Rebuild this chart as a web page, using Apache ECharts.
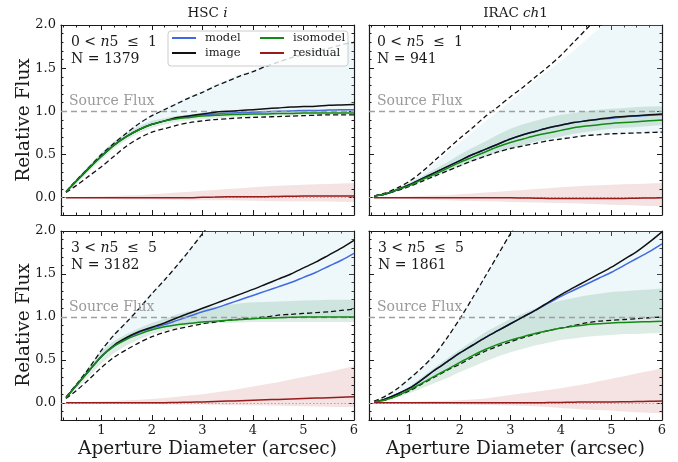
<!DOCTYPE html>
<html>
<head>
<meta charset="utf-8">
<script src="https://cdn.jsdelivr.net/npm/echarts@6/dist/echarts.min.js"></script>
<style>
  html, body { margin: 0; padding: 0; background: #fff; }
  #chart { width: 678px; height: 462px; }
</style>
</head>
<body>
<div id="chart"></div>
<script>
// Aperture diameters (arcsec) at which the curves of growth are sampled
const aperture = [0.3, 0.5, 0.75, 1.0, 1.25, 1.5, 1.75, 2.0, 2.25, 2.5, 2.75, 3.0,
                  3.25, 3.5, 3.75, 4.0, 4.25, 4.5, 4.75, 5.0, 5.25, 5.5, 5.75, 6.0];

// Axis ticks
const xMajorTicks = [1, 2, 3, 4, 5, 6];
const xMinorTicks = [0.25, 0.5, 0.75, 1.25, 1.5, 1.75, 2.25, 2.5, 2.75, 3.25, 3.5, 3.75, 4.25, 4.5, 4.75, 5.25, 5.5, 5.75];
const yMajorTicks = [0, 0.5, 1.0, 1.5, 2.0];
const yMinorTicks = [-0.2, -0.1, 0.1, 0.2, 0.3, 0.4, 0.6, 0.7, 0.8, 0.9, 1.1, 1.2, 1.3, 1.4, 1.6, 1.7, 1.8, 1.9];

// Panel labels
const bandNames = ['HSC', 'IRAC'];
const bins = ['0 < n5 ≤ 1', '3 < n5 ≤ 5'];
const counts = { hscLow: 1379, iracLow: 941, hscHigh: 3182, iracHigh: 1861 };

// ---- HSC i, 0 < n5 <= 1 ----
const hscLowModel   = [0.07, 0.19, 0.34, 0.48, 0.61, 0.71, 0.79, 0.85, 0.89, 0.92, 0.94, 0.96, 0.97, 0.98, 0.985, 0.99, 0.995, 1.00, 1.005, 1.01, 1.01, 1.015, 1.02, 1.02];
const hscLowImage   = [0.07, 0.19, 0.34, 0.48, 0.61, 0.71, 0.79, 0.85, 0.89, 0.93, 0.95, 0.97, 0.99, 1.00, 1.01, 1.02, 1.03, 1.04, 1.05, 1.055, 1.06, 1.07, 1.075, 1.08];
const hscLowIso     = [0.07, 0.19, 0.34, 0.48, 0.61, 0.71, 0.79, 0.85, 0.89, 0.915, 0.93, 0.945, 0.955, 0.96, 0.965, 0.97, 0.97, 0.975, 0.975, 0.98, 0.98, 0.98, 0.98, 0.98];
const hscLowImgHi   = [0.07, 0.20, 0.35, 0.50, 0.63, 0.75, 0.86, 0.95, 1.02, 1.09, 1.16, 1.22, 1.29, 1.35, 1.41, 1.46, 1.52, 1.57, 1.62, 1.66, 1.70, 1.73, 1.77, 1.80];
const hscLowImgLo   = [0.06, 0.14, 0.25, 0.36, 0.48, 0.60, 0.69, 0.76, 0.80, 0.84, 0.87, 0.89, 0.905, 0.915, 0.925, 0.93, 0.935, 0.94, 0.945, 0.95, 0.955, 0.96, 0.96, 0.96];
const hscLowModHi   = [0.07, 0.21, 0.37, 0.52, 0.65, 0.77, 0.88, 0.97, 1.04, 1.11, 1.18, 1.24, 1.31, 1.37, 1.43, 1.48, 1.54, 1.59, 1.64, 1.68, 1.72, 1.75, 1.79, 1.82];
const hscLowModLo   = [0.07, 0.19, 0.34, 0.48, 0.61, 0.71, 0.79, 0.85, 0.89, 0.915, 0.93, 0.945, 0.955, 0.96, 0.965, 0.97, 0.97, 0.975, 0.975, 0.98, 0.98, 0.98, 0.98, 0.98];
const hscLowIsoHi   = [0.08, 0.21, 0.37, 0.52, 0.65, 0.75, 0.83, 0.89, 0.92, 0.95, 0.96, 0.975, 0.985, 0.99, 0.995, 1.00, 1.005, 1.01, 1.01, 1.015, 1.015, 1.02, 1.02, 1.02];
const hscLowIsoLo   = [0.06, 0.16, 0.30, 0.44, 0.57, 0.67, 0.75, 0.81, 0.85, 0.88, 0.90, 0.91, 0.92, 0.93, 0.935, 0.94, 0.945, 0.95, 0.95, 0.955, 0.955, 0.96, 0.96, 0.96];
const hscLowResid   = [0, 0, 0, 0, 0, 0, 0, 0, 0, 0, 0, 0.005, 0.007, 0.01, 0.01, 0.01, 0.012, 0.015, 0.017, 0.02, 0.02, 0.02, 0.02, 0.02];
const hscLowResidHi = [0, 0.005, 0.01, 0.015, 0.02, 0.025, 0.03, 0.04, 0.05, 0.06, 0.07, 0.08, 0.09, 0.10, 0.11, 0.12, 0.13, 0.14, 0.145, 0.15, 0.155, 0.16, 0.165, 0.17];
const hscLowResidLo = [0, -0.005, -0.01, -0.01, -0.015, -0.02, -0.02, -0.02, -0.022, -0.025, -0.028, -0.03, -0.03, -0.03, -0.032, -0.035, -0.038, -0.04, -0.04, -0.04, -0.042, -0.045, -0.048, -0.05];

// ---- IRAC ch1, 0 < n5 <= 1 ----
const iracLowModel   = [0.02, 0.04, 0.09, 0.15, 0.22, 0.29, 0.36, 0.43, 0.50, 0.56, 0.62, 0.68, 0.73, 0.77, 0.81, 0.84, 0.87, 0.89, 0.91, 0.92, 0.935, 0.945, 0.955, 0.96];
const iracLowImage   = [0.02, 0.04, 0.09, 0.15, 0.22, 0.29, 0.36, 0.43, 0.50, 0.56, 0.62, 0.68, 0.73, 0.77, 0.81, 0.84, 0.87, 0.89, 0.91, 0.93, 0.94, 0.95, 0.96, 0.97];
const iracLowIso     = [0.02, 0.04, 0.09, 0.14, 0.21, 0.27, 0.34, 0.41, 0.47, 0.53, 0.59, 0.64, 0.68, 0.72, 0.75, 0.78, 0.81, 0.83, 0.845, 0.86, 0.87, 0.88, 0.89, 0.90];
const iracLowImgHi   = [0.02, 0.05, 0.11, 0.19, 0.30, 0.43, 0.56, 0.69, 0.81, 0.94, 1.05, 1.17, 1.28, 1.40, 1.52, 1.65, 1.80, 1.95, 2.10, 2.25, 2.38, 2.50, 2.62, 2.75];
const iracLowImgLo   = [0.02, 0.04, 0.08, 0.13, 0.19, 0.25, 0.31, 0.37, 0.43, 0.48, 0.53, 0.57, 0.60, 0.63, 0.66, 0.68, 0.70, 0.72, 0.73, 0.74, 0.745, 0.75, 0.755, 0.76];
const iracLowModHi   = [0.02, 0.05, 0.10, 0.18, 0.28, 0.40, 0.52, 0.64, 0.76, 0.88, 1.00, 1.12, 1.24, 1.36, 1.47, 1.58, 1.70, 1.83, 1.96, 2.10, 2.22, 2.35, 2.47, 2.60];
const iracLowModLo   = [0.02, 0.04, 0.08, 0.13, 0.19, 0.25, 0.31, 0.37, 0.43, 0.48, 0.53, 0.57, 0.60, 0.63, 0.66, 0.68, 0.70, 0.72, 0.73, 0.74, 0.745, 0.75, 0.755, 0.76];
const iracLowIsoHi   = [0.02, 0.05, 0.11, 0.17, 0.25, 0.33, 0.41, 0.50, 0.58, 0.65, 0.73, 0.80, 0.85, 0.89, 0.93, 0.96, 0.98, 1.00, 1.02, 1.03, 1.04, 1.05, 1.055, 1.06];
const iracLowIsoLo   = [0.02, 0.04, 0.08, 0.13, 0.19, 0.25, 0.31, 0.36, 0.42, 0.47, 0.52, 0.57, 0.61, 0.65, 0.68, 0.71, 0.74, 0.76, 0.78, 0.80, 0.81, 0.82, 0.83, 0.84];
const iracLowResid   = [0, 0, 0, 0, 0, 0, 0, 0, 0, 0, 0, 0, -0.003, -0.005, -0.008, -0.01, -0.01, -0.01, -0.01, -0.01, -0.008, -0.005, -0.003, 0];
const iracLowResidHi = [0, 0.005, 0.01, 0.015, 0.02, 0.025, 0.03, 0.04, 0.05, 0.06, 0.07, 0.08, 0.09, 0.10, 0.11, 0.12, 0.13, 0.14, 0.145, 0.15, 0.155, 0.16, 0.165, 0.17];
const iracLowResidLo = [0, -0.005, -0.01, -0.015, -0.02, -0.025, -0.03, -0.035, -0.038, -0.04, -0.045, -0.05, -0.052, -0.055, -0.058, -0.06, -0.065, -0.07, -0.075, -0.08, -0.085, -0.09, -0.095, -0.10];

// ---- HSC i, 3 < n5 <= 5 ----
const hscHighModel   = [0.06, 0.20, 0.37, 0.54, 0.66, 0.75, 0.82, 0.87, 0.91, 0.96, 1.01, 1.06, 1.10, 1.15, 1.20, 1.25, 1.30, 1.35, 1.40, 1.46, 1.52, 1.59, 1.66, 1.74];
const hscHighImage   = [0.06, 0.20, 0.37, 0.54, 0.67, 0.76, 0.83, 0.88, 0.93, 0.99, 1.045, 1.10, 1.155, 1.21, 1.265, 1.32, 1.38, 1.44, 1.50, 1.57, 1.64, 1.72, 1.80, 1.89];
const hscHighIso     = [0.06, 0.20, 0.37, 0.54, 0.66, 0.74, 0.80, 0.85, 0.885, 0.91, 0.925, 0.94, 0.95, 0.96, 0.97, 0.98, 0.985, 0.99, 0.995, 1.00, 1.00, 1.00, 1.00, 1.00];
const hscHighImgHi   = [0.07, 0.21, 0.40, 0.61, 0.79, 0.94, 1.10, 1.27, 1.43, 1.60, 1.78, 1.97, 2.16, 2.35, 2.52, 2.70, 2.85, 3.00, 3.15, 3.30, 3.45, 3.60, 3.75, 3.90];
const hscHighImgLo   = [0.05, 0.14, 0.27, 0.41, 0.53, 0.62, 0.70, 0.77, 0.82, 0.86, 0.89, 0.92, 0.94, 0.96, 0.975, 0.99, 1.00, 1.02, 1.03, 1.04, 1.05, 1.06, 1.075, 1.09];
const hscHighModHi   = [0.07, 0.22, 0.42, 0.63, 0.81, 0.96, 1.12, 1.29, 1.45, 1.62, 1.80, 1.99, 2.18, 2.37, 2.54, 2.72, 2.87, 3.02, 3.17, 3.32, 3.47, 3.62, 3.77, 3.92];
const hscHighModLo   = [0.06, 0.20, 0.37, 0.54, 0.66, 0.74, 0.80, 0.85, 0.885, 0.91, 0.925, 0.94, 0.95, 0.96, 0.97, 0.98, 0.985, 0.99, 0.995, 1.00, 1.00, 1.00, 1.00, 1.00];
const hscHighIsoHi   = [0.07, 0.23, 0.42, 0.60, 0.72, 0.80, 0.87, 0.93, 0.98, 1.03, 1.07, 1.10, 1.12, 1.14, 1.16, 1.17, 1.175, 1.18, 1.185, 1.19, 1.195, 1.20, 1.20, 1.20];
const hscHighIsoLo   = [0.05, 0.16, 0.31, 0.46, 0.58, 0.67, 0.74, 0.80, 0.84, 0.87, 0.90, 0.92, 0.925, 0.93, 0.935, 0.94, 0.94, 0.94, 0.94, 0.94, 0.94, 0.94, 0.94, 0.94];
const hscHighResid   = [0, 0, 0, 0, 0, 0, 0, 0, 0.002, 0.005, 0.008, 0.01, 0.015, 0.02, 0.025, 0.03, 0.035, 0.04, 0.045, 0.05, 0.055, 0.06, 0.065, 0.07];
const hscHighResidHi = [0, 0.005, 0.01, 0.015, 0.02, 0.03, 0.035, 0.045, 0.055, 0.07, 0.085, 0.10, 0.12, 0.14, 0.165, 0.19, 0.215, 0.24, 0.27, 0.30, 0.33, 0.36, 0.395, 0.43];
const hscHighResidLo = [0, -0.005, -0.005, -0.01, -0.01, -0.01, -0.015, -0.015, -0.018, -0.02, -0.02, -0.02, -0.022, -0.025, -0.028, -0.03, -0.032, -0.035, -0.038, -0.04, -0.042, -0.045, -0.048, -0.05];

// ---- IRAC ch1, 3 < n5 <= 5 ----
const iracHighModel   = [0.01, 0.04, 0.10, 0.17, 0.27, 0.38, 0.48, 0.58, 0.67, 0.76, 0.84, 0.92, 1.00, 1.08, 1.16, 1.24, 1.31, 1.38, 1.45, 1.52, 1.60, 1.68, 1.76, 1.85];
const iracHighImage   = [0.01, 0.04, 0.10, 0.17, 0.27, 0.38, 0.48, 0.58, 0.67, 0.76, 0.84, 0.92, 1.00, 1.08, 1.17, 1.26, 1.34, 1.42, 1.50, 1.58, 1.67, 1.76, 1.87, 1.99];
const iracHighIso     = [0.01, 0.03, 0.08, 0.15, 0.23, 0.31, 0.39, 0.47, 0.55, 0.62, 0.68, 0.73, 0.77, 0.81, 0.84, 0.87, 0.89, 0.91, 0.92, 0.93, 0.935, 0.94, 0.945, 0.95];
const iracHighImgHi   = [0.02, 0.07, 0.16, 0.28, 0.41, 0.56, 0.76, 0.98, 1.22, 1.47, 1.72, 1.97, 2.20, 2.40, 2.60, 2.80, 3.00, 3.20, 3.40, 3.60, 3.80, 4.00, 4.20, 4.40];
const iracHighImgLo   = [0.01, 0.03, 0.08, 0.14, 0.22, 0.30, 0.38, 0.45, 0.53, 0.60, 0.66, 0.71, 0.76, 0.80, 0.84, 0.87, 0.90, 0.93, 0.95, 0.96, 0.97, 0.98, 0.99, 1.00];
const iracHighModHi   = [0.02, 0.08, 0.17, 0.29, 0.42, 0.57, 0.77, 0.99, 1.23, 1.48, 1.73, 1.98, 2.21, 2.41, 2.61, 2.81, 3.01, 3.21, 3.41, 3.61, 3.81, 4.01, 4.21, 4.41];
const iracHighModLo   = [0.01, 0.03, 0.08, 0.14, 0.22, 0.30, 0.38, 0.45, 0.53, 0.60, 0.66, 0.71, 0.76, 0.80, 0.84, 0.87, 0.90, 0.93, 0.95, 0.96, 0.97, 0.98, 0.99, 1.00];
const iracHighIsoHi   = [0.01, 0.04, 0.10, 0.19, 0.30, 0.41, 0.52, 0.62, 0.72, 0.82, 0.90, 0.98, 1.04, 1.10, 1.15, 1.19, 1.22, 1.25, 1.27, 1.29, 1.30, 1.31, 1.32, 1.33];
const iracHighIsoLo   = [0.01, 0.03, 0.06, 0.11, 0.17, 0.23, 0.29, 0.36, 0.42, 0.48, 0.54, 0.59, 0.63, 0.67, 0.70, 0.73, 0.75, 0.77, 0.78, 0.79, 0.80, 0.80, 0.81, 0.81];
const iracHighResid   = [0, 0, 0, 0, 0, 0, 0, 0, 0, 0, 0, 0, 0, 0, 0.003, 0.005, 0.007, 0.01, 0.01, 0.01, 0.012, 0.015, 0.018, 0.02];
const iracHighResidHi = [0, 0.005, 0.01, 0.01, 0.015, 0.02, 0.025, 0.03, 0.04, 0.05, 0.07, 0.09, 0.11, 0.13, 0.15, 0.17, 0.195, 0.22, 0.25, 0.28, 0.31, 0.34, 0.37, 0.40];
const iracHighResidLo = [0, -0.005, -0.005, -0.01, -0.01, -0.015, -0.015, -0.02, -0.022, -0.025, -0.028, -0.03, -0.035, -0.04, -0.05, -0.06, -0.07, -0.08, -0.085, -0.09, -0.10, -0.11, -0.115, -0.12];

// ---- styling ----
const FONT = 'DejaVu Serif';
const INK = '#1a1a1a';
const COLORS = {
  model: '#4169e1',
  image: '#111111',
  isomodel: '#138a13',
  residual: '#971b1b',
  modelBand: 'rgba(173, 216, 230, 0.21)',
  isoBand: 'rgba(46, 139, 87, 0.16)',
  residBand: 'rgba(178, 34, 34, 0.13)'
};
const X_MIN = 0.2, X_MAX = 6.0, Y_MIN = -0.2, Y_MAX = 2.0;

const panels = [
  { model: hscLowModel, image: hscLowImage, iso: hscLowIso, imgHi: hscLowImgHi, imgLo: hscLowImgLo,
    modHi: hscLowModHi, modLo: hscLowModLo, isoHi: hscLowIsoHi, isoLo: hscLowIsoLo,
    resid: hscLowResid, residHi: hscLowResidHi, residLo: hscLowResidLo, bin: bins[0], n: counts.hscLow },
  { model: iracLowModel, image: iracLowImage, iso: iracLowIso, imgHi: iracLowImgHi, imgLo: iracLowImgLo,
    modHi: iracLowModHi, modLo: iracLowModLo, isoHi: iracLowIsoHi, isoLo: iracLowIsoLo,
    resid: iracLowResid, residHi: iracLowResidHi, residLo: iracLowResidLo, bin: bins[0], n: counts.iracLow },
  { model: hscHighModel, image: hscHighImage, iso: hscHighIso, imgHi: hscHighImgHi, imgLo: hscHighImgLo,
    modHi: hscHighModHi, modLo: hscHighModLo, isoHi: hscHighIsoHi, isoLo: hscHighIsoLo,
    resid: hscHighResid, residHi: hscHighResidHi, residLo: hscHighResidLo, bin: bins[1], n: counts.hscHigh },
  { model: iracHighModel, image: iracHighImage, iso: iracHighIso, imgHi: iracHighImgHi, imgLo: iracHighImgLo,
    modHi: iracHighModHi, modLo: iracHighModLo, isoHi: iracHighIsoHi, isoLo: iracHighIsoLo,
    resid: iracHighResid, residHi: iracHighResidHi, residLo: iracHighResidLo, bin: bins[1], n: counts.iracHigh }
];

const grids = [
  { left: 61, top: 25, width: 293, height: 190 },
  { left: 369, top: 25, width: 293, height: 190 },
  { left: 61, top: 231, width: 293, height: 189 },
  { left: 369, top: 231, width: 293, height: 189 }
];

// ---- axes: each grid gets a major and a minor axis on all four sides ----
const xAxes = [], yAxes = [];
const tickLine = { color: INK, width: 1 };
function sideAxis(gi, pos, values, len, withLine, labels, isX) {
  const ax = {
    gridIndex: gi, type: 'value', position: pos,
    min: isX ? X_MIN : Y_MIN, max: isX ? X_MAX : Y_MAX,
    axisLine: { show: withLine, onZero: false, lineStyle: { color: INK, width: 1.2 } },
    axisTick: { show: true, inside: true, length: len, customValues: values, lineStyle: tickLine },
    axisLabel: { show: false },
    splitLine: { show: false },
    axisPointer: { show: false }
  };
  if (labels) {
    ax.axisLabel = {
      show: true, customValues: values, margin: isX ? 4 : 5,
      fontFamily: FONT, fontSize: 13, color: INK,
      formatter: isX ? (v) => String(Math.round(v)) : (v) => v.toFixed(1)
    };
  }
  return ax;
}
grids.forEach((g, gi) => {
  const showX = gi >= 2, showY = gi % 2 === 0;
  xAxes.push(sideAxis(gi, 'bottom', xMajorTicks, 5, true, showX, true));
  xAxes.push(sideAxis(gi, 'bottom', xMinorTicks, 2.5, false, false, true));
  xAxes.push(sideAxis(gi, 'top', xMajorTicks, 5, true, false, true));
  xAxes.push(sideAxis(gi, 'top', xMinorTicks, 2.5, false, false, true));
  yAxes.push(sideAxis(gi, 'left', yMajorTicks, 5, true, showY, false));
  yAxes.push(sideAxis(gi, 'left', yMinorTicks, 2.5, false, false, false));
  yAxes.push(sideAxis(gi, 'right', yMajorTicks, 5, true, false, false));
  yAxes.push(sideAxis(gi, 'right', yMinorTicks, 2.5, false, false, false));
});

// ---- series ----
const pairs = (ys) => aperture.map((x, i) => [x, ys[i]]);
const SMOOTH = 0.3;

const series = [];
panels.forEach((p, gi) => {
  const ax = { xAxisIndex: gi * 4, yAxisIndex: gi * 4 };

  // shaded percentile band: one polygon through the axis scales
  function band(key, lo, hi, color) {
    series.push(Object.assign({
      type: 'custom', name: key + gi, coordinateSystem: 'cartesian2d',
      clip: true, silent: true, z: 1,
      data: aperture.map((x, i) => [x, lo[i], hi[i]]),
      encode: { x: 0, y: [1, 2] },
      renderItem: function (params, api) {
        if (params.dataIndex !== 0) return null;
        const upper = aperture.map((x, i) => api.coord([x, hi[i]]));
        const lower = aperture.map((x, i) => api.coord([x, lo[i]])).reverse();
        return {
          type: 'polygon',
          shape: { points: upper.concat(lower) },
          style: { fill: color, stroke: null }
        };
      }
    }, ax));
  }
  band('modelBand', p.modLo, p.modHi, COLORS.modelBand);
  band('isoBand', p.isoLo, p.isoHi, COLORS.isoBand);
  band('residBand', p.residLo, p.residHi, COLORS.residBand);

  function curve(name, ys, color, width, dash, z, extra) {
    series.push(Object.assign({
      type: 'line', name: name, data: pairs(ys), symbol: 'none', showSymbol: false,
      smooth: SMOOTH, color: color, z: z,
      lineStyle: { color: color, width: width, type: dash || 'solid' }
    }, ax, extra || {}));
  }
  // reference levels: total source flux and zero residual
  curve('image 84%', p.imgHi, '#111', 1.3, [5, 3], 3, {
    markLine: {
      silent: true, symbol: 'none', animation: false,
      data: [
        { yAxis: 1.0, lineStyle: { color: '#a0a0a0', type: [6, 4], width: 1.3 },
          label: { show: true, position: 'insideStartTop', formatter: 'Source Flux',
                   fontFamily: FONT, fontSize: 14, color: '#9a9a9a', distance: [8, 3] } },
        { yAxis: 0.0, lineStyle: { color: '#a8a8a8', type: [1.5, 2], width: 1 }, label: { show: false } }
      ]
    }
  });
  curve('image 16%', p.imgLo, '#111', 1.3, [5, 3], 3);
  curve('model', p.model, COLORS.model, 1.5, null, 4);
  curve('image', p.image, COLORS.image, 1.5, null, 5);
  curve('isomodel', p.iso, COLORS.isomodel, 1.5, null, 6);
  curve('residual', p.resid, COLORS.residual, 1.5, null, 6);
});

// ---- text ----
function txt(x, y, rich, text, align) {
  return {
    type: 'text', x: x, y: y, z: 30, silent: true,
    style: { text: text, rich: rich, textAlign: align || 'left', textVerticalAlign: 'middle', fill: INK }
  };
}
const r14 = { r: { fontFamily: FONT, fontSize: 14, color: INK }, i: { fontFamily: FONT, fontSize: 14, fontStyle: 'italic', color: INK } };
const r13 = { r: { fontFamily: FONT, fontSize: 13.5, color: INK }, i: { fontFamily: FONT, fontSize: 13.5, fontStyle: 'italic', color: INK } };
const binRich = (s) => s.replace(/^(\d) < n(\d) ≤ (\d)$/, '{r|$1 < }{i|n}{r|$2  ≤  $3}');

const graphics = [];
// column titles
graphics.push(txt(207.5, 13, r13, '{r|' + bandNames[0] + ' }{i|i}', 'center'));
graphics.push(txt(515.5, 13, r13, '{r|' + bandNames[1] + ' }{i|ch}{r|1}', 'center'));
// bin and count annotations
const annX = [71, 377, 71, 378];
panels.forEach((p, gi) => {
  const top = grids[gi].top;
  graphics.push(txt(annX[gi], top + 17.5, r14, binRich(p.bin)));
  graphics.push(txt(annX[gi], top + 34, r14, '{r|N = ' + p.n + '}'));
});
// axis titles
[120, 325].forEach((cy) => {
  graphics.push({ type: 'text', x: 24, y: cy, rotation: Math.PI / 2, z: 30, silent: true,
    style: { text: 'Relative Flux', font: '18.5px "' + FONT + '"', fill: INK, textAlign: 'center', textVerticalAlign: 'middle' } });
});
[207.5, 515.5].forEach((cx) => {
  graphics.push({ type: 'text', x: cx, y: 449, z: 30, silent: true,
    style: { text: 'Aperture Diameter (arcsec)', font: '18.5px "' + FONT + '"', fill: INK, textAlign: 'center', textVerticalAlign: 'middle' } });
});
// legend frame
graphics.push({ type: 'rect', z: 50, silent: true,
  shape: { x: 168, y: 31, width: 180, height: 35, r: 3 },
  style: { fill: 'rgba(255,255,255,0.8)', stroke: '#cccccc', lineWidth: 1 } });

const legendBase = {
  orient: 'vertical', top: 32, padding: 0, itemGap: 3, itemWidth: 24, itemHeight: 2,
  icon: 'rect', selectedMode: false, z: 60,
  textStyle: { fontFamily: FONT, fontSize: 11.5, color: INK, padding: [0, 0, 0, 4] }
};

const chart = echarts.init(document.getElementById('chart'), null, { renderer: 'canvas' });
chart.setOption({
  animation: false,
  backgroundColor: '#fff',
  grid: grids,
  xAxis: xAxes,
  yAxis: yAxes,
  legend: [
    Object.assign({}, legendBase, { left: 172, data: ['model', 'image'] }),
    Object.assign({}, legendBase, { left: 260, data: ['isomodel', 'residual'] })
  ],
  graphic: graphics,
  series: series
});
</script>
</body>
</html>
